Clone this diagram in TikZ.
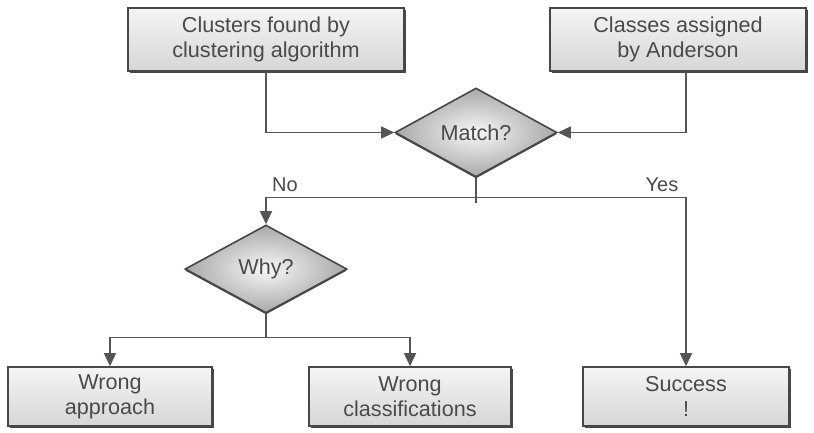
\documentclass[tikz,border=0pt]{standalone}
\usepackage{fontspec}
\setmainfont{Liberation Sans}
\usetikzlibrary{shapes.geometric,arrows.meta,shadows}
\definecolor{edge}{HTML}{474747}
\definecolor{ink}{HTML}{4A4A4A}
\definecolor{wire}{HTML}{555555}
\begin{document}
\begin{tikzpicture}[x=1pt,y=-1pt,
  txt/.style={text=ink,font=\fontsize{21.6}{25}\selectfont,align=center},
  box/.style={txt,rectangle,draw=edge,line width=1.6pt,inner sep=0pt,
    top color=white!96!black,bottom color=white!84!black,
    drop shadow={shadow xshift=1.8pt,shadow yshift=-1.8pt,fill=edge,opacity=1}},
  decision/.style={txt,diamond,draw=edge,line width=1.6pt,inner sep=0pt,aspect=1.8,
    shading=radial,inner color=white!97!black,outer color=white!66!black,
    drop shadow={shadow xshift=0pt,shadow yshift=-1.6pt,fill=edge,opacity=1}},
  wireline/.style={draw=wire,line width=1.5pt},
  arr/.style={wireline,-{Triangle[length=13pt,width=12pt]}},
  lbl/.style={text=ink,font=\fontsize{20}{22}\selectfont}]
\useasboundingbox (0,0) rectangle (814,432);

% sources
\node[box,minimum width=276pt,minimum height=63pt] (c1) at (266,39.5)
  {Clusters found by\\clustering algorithm};
\node[box,minimum width=256pt,minimum height=63pt] (c2) at (678,39.5)
  {Classes assigned\\by Anderson};

% decisions
\node[decision,minimum width=162pt,minimum height=89pt] (match) at (476,132.5) {Match?};
\node[decision,minimum width=162pt,minimum height=88pt] (why) at (266,269) {Why?};

% outcomes
\node[box,minimum width=204pt,minimum height=59pt] (wa) at (110,396.5) {Wrong\\approach};
\node[box,minimum width=202pt,minimum height=59pt] (wc) at (410,396.5) {Wrong\\classifications};
\node[box,minimum width=206pt,minimum height=59pt] (s) at (686,396.5) {Success\\!};

% inputs to the match test
\draw[arr] (c1.south) |- (match.west);
\draw[arr] (c2.south -| s.north) |- (match.east);

% match branches
\coordinate (split) at (match.south |- 0,197.5);
\draw[wireline] (match.south) -- (match.south |- 0,203);
\draw[arr] (split) -| (why.north);
\draw[arr] (split) -| (s.north);
\node[lbl] (no) at (285,185) {No};
\node[lbl] (yes) at (662,185) {Yes};

% reasons for a mismatch
\coordinate (wsplit) at (why.south |- 0,337.5);
\draw[wireline] (why.south) -- (wsplit);
\draw[arr] (wsplit) -| (wa.north);
\draw[arr] (wsplit) -| (wc.north);
\end{tikzpicture}
\end{document}
